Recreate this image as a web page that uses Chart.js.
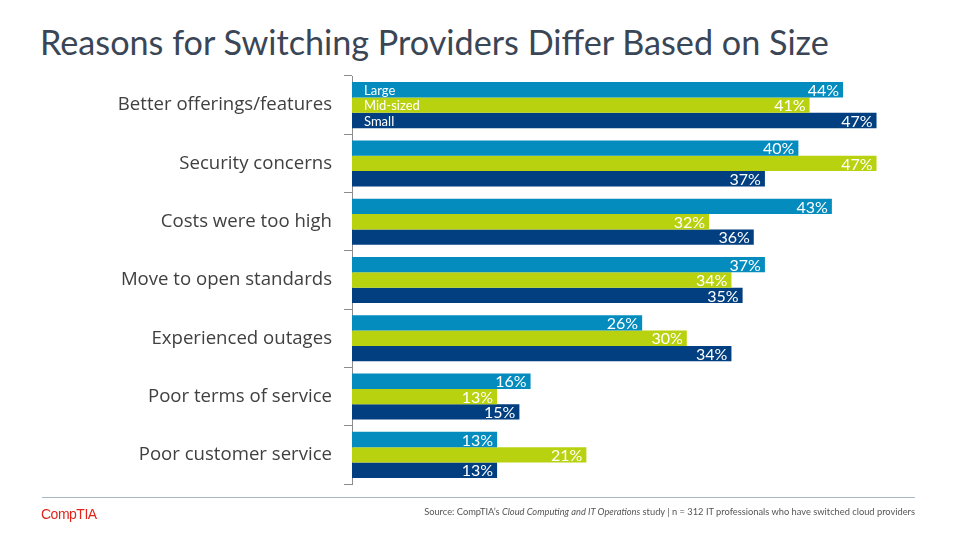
<!DOCTYPE html>
<html>
<head>
<meta charset="utf-8">
<script src="https://cdn.jsdelivr.net/npm/chart.js@4"></script>
<style>
  body { margin: 0; background: #fff; width: 960px; height: 540px; overflow: hidden; position: relative; font-family: Lato, "Noto Sans", sans-serif; }
  #title { position: absolute; left: 40px; top: 21px; font-size: 34.2px; color: #3a4656; white-space: nowrap; }
  #wrap { position: absolute; left: 0; top: 0; width: 960px; height: 540px; }
  #rule { position: absolute; left: 42px; top: 497px; width: 873px; height: 1px; background: #a9b7c6; }
  #logo { position: absolute; left: 41px; top: 506px; font-size: 14px; color: #e2231a; font-family: "Liberation Sans", sans-serif; letter-spacing: -0.5px; }
  #source { position: absolute; right: 45px; top: 506px; font-size: 9.3px; color: #555; white-space: nowrap; }
</style>
</head>
<body>
<div id="title">Reasons for Switching Providers Differ Based on Size</div>
<div id="wrap"><canvas id="barChart"></canvas></div>
<div id="rule"></div>
<div id="logo">CompTIA</div>
<div id="source">Source: CompTIA’s <i>Cloud Computing and IT Operations</i> study | n = 312 IT professionals who have switched cloud providers</div>
<script>
var categories = ['Better offerings/features', 'Security concerns', 'Costs were too high', 'Move to open standards', 'Experienced outages', 'Poor terms of service', 'Poor customer service'];
var seriesNames = ['Large', 'Mid-sized', 'Small'];
var large = [44, 40, 43, 37, 26, 16, 13];
var midSized = [41, 47, 32, 34, 30, 13, 21];
var small = [47, 37, 36, 35, 34, 15, 13];

var barLabels = {
    id: 'barLabels',
    afterDatasetsDraw: function (chart) {
        var ctx = chart.ctx;
        ctx.save();
        ctx.fillStyle = '#ffffff';
        ctx.textBaseline = 'middle';
        chart.data.datasets.forEach(function (ds, i) {
            var meta = chart.getDatasetMeta(i);
            meta.data.forEach(function (bar, j) {
                ctx.font = '16px Lato, "Noto Sans", sans-serif';
                ctx.textAlign = 'right';
                ctx.fillText(ds.data[j] + '%', bar.x - 4, bar.y + 1);
                if (j === 0) {
                    ctx.font = '13px Lato, "Noto Sans", sans-serif';
                    ctx.textAlign = 'left';
                    ctx.fillText(ds.label, bar.base + 12, bar.y + 1);
                }
            });
        });
        ctx.restore();
    }
};

var ctx = document.getElementById('barChart').getContext('2d');
var myChart = new Chart(ctx, {
    type: 'bar',
    data: {
        labels: categories,
        datasets: [{
            label: seriesNames[0],
            data: large,
            backgroundColor: '#058cbf'
        }, {
            label: seriesNames[1],
            data: midSized,
            backgroundColor: '#b9d20f'
        }, {
            label: seriesNames[2],
            data: small,
            backgroundColor: '#013f80'
        }]
    },
    options: {
        indexAxis: 'y',
        responsive: true,
        maintainAspectRatio: false,
        animation: false,
        categoryPercentage: 0.79,
        barPercentage: 1,
        layout: { padding: { left: 0, right: 50, top: 76, bottom: 56 } },
        plugins: { legend: { display: false }, tooltip: { enabled: false } },
        scales: {
            x: { display: false, min: 0, max: 50 },
            y: {
                afterFit: function (scale) { scale.width = 352; },
                grid: { drawOnChartArea: false, tickLength: 8, color: '#8c8c8c', offset: true },
                border: { color: '#8c8c8c' },
                ticks: { color: '#404040', padding: 12, font: { size: 18.6, family: '"Open Sans", "Noto Sans", sans-serif' } }
            }
        }
    },
    plugins: [barLabels]
});
</script>
</body>
</html>
